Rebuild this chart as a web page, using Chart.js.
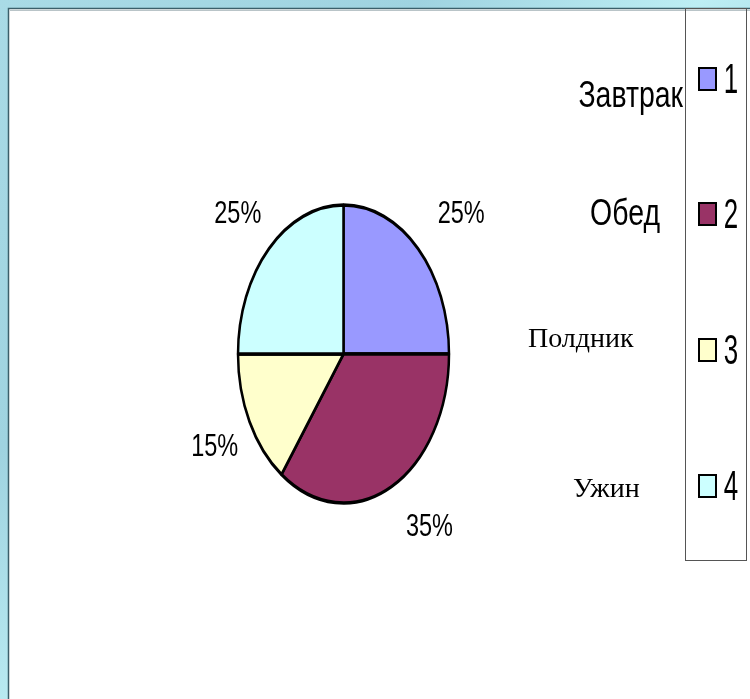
<!DOCTYPE html>
<html>
<head>
<meta charset="utf-8">
<script src="https://cdn.jsdelivr.net/npm/chart.js@4"></script>
<style>
  body { margin: 0; background: #fff; }
  canvas { display: block; }
</style>
</head>
<body>
<canvas id="mealChart" width="750" height="699"></canvas>
<script>
// Data for the chart
const meals = ['Завтрак', 'Обед', 'Полдник', 'Ужин'];
const legendNumbers = ['1', '2', '3', '4'];
const shares = [25, 35, 15, 25];
const sliceColors = ['#9999FF', '#993366', '#FFFFCC', '#CCFFFF'];

// pie is drawn as an ellipse: squeeze factor (height / width)
const stretchY = 149 / 105.5;

function drawText(ctx, text, x, y, font, sx, sy, align, baseline) {
    ctx.save();
    ctx.translate(x, y);
    ctx.scale(sx, sy);
    ctx.font = font;
    ctx.fillStyle = '#000';
    ctx.textAlign = align;
    ctx.textBaseline = baseline;
    ctx.fillText(text, 0, 0);
    ctx.restore();
}

// slide background: blue frame with white panel
const slideBackground = {
    id: 'slideBackground',
    beforeDraw(chart) {
        const ctx = chart.ctx;
        const w = chart.width, h = chart.height;
        const grad = ctx.createLinearGradient(0, 0, w, h);
        grad.addColorStop(0, '#a9dbe6');
        grad.addColorStop(0.3, '#9fd3e0');
        grad.addColorStop(0.5, '#bdeef4');
        grad.addColorStop(0.75, '#97ccdb');
        grad.addColorStop(1, '#b5e6ee');
        ctx.save();
        ctx.fillStyle = grad;
        ctx.fillRect(0, 0, w, h);
        ctx.fillStyle = '#ffffff';
        ctx.fillRect(9, 9, w - 9, h - 9);
        ctx.strokeStyle = '#3b5f6a';
        ctx.lineWidth = 1.5;
        ctx.beginPath();
        ctx.moveTo(8.5, h);
        ctx.lineTo(8.5, 8.5);
        ctx.lineTo(w, 8.5);
        ctx.stroke();
        ctx.strokeStyle = '#b9c4c8';
        ctx.lineWidth = 1;
        ctx.beginPath();
        ctx.moveTo(10, 10.5);
        ctx.lineTo(w, 10.5);
        ctx.stroke();
        ctx.restore();
    }
};

// stretch the round pie vertically into an ellipse
const ellipsePie = {
    id: 'ellipsePie',
    beforeDatasetsDraw(chart) {
        const arc = chart.getDatasetMeta(0).data[0];
        const ctx = chart.ctx;
        ctx.save();
        ctx.translate(arc.x, arc.y);
        ctx.scale(1, stretchY);
        ctx.translate(-arc.x, -arc.y);
    },
    afterDatasetsDraw(chart) {
        chart.ctx.restore();
        const ctx = chart.ctx;
        // gap from the rim, half text box, and a small right shift of the label box
        const gx = 20, gy = 33, hw = 23, hh = 11, shiftX = 6;
        chart.getDatasetMeta(0).data.forEach((arc, i) => {
            const mid = (arc.startAngle + arc.endAngle) / 2;
            const c = Math.cos(mid), s = Math.sin(mid);
            const px = arc.x + c * arc.outerRadius;
            const py = arc.y + s * arc.outerRadius * stretchY;
            const lx = px + Math.sign(c) * hw + c * gx + shiftX;
            const ly = py + Math.sign(s) * hh + s * gy;
            drawText(ctx, shares[i] + '%', lx, ly, '28px "Liberation Sans", Arial, sans-serif', 0.84, 1.12, 'center', 'middle');
        });
    }
};

// legend: names outside the box, numbered swatches inside it
const sideLegend = {
    id: 'sideLegend',
    afterDraw(chart) {
        const ctx = chart.ctx;
        ctx.save();
        ctx.strokeStyle = '#555';
        ctx.lineWidth = 1;
        ctx.strokeRect(685.5, 8.5, 61, 552);
        ctx.restore();

        const rows = [79, 214, 350, 486];
        const nameStyles = [
            { font: '36px "Liberation Sans", Arial, sans-serif', sx: 0.79, sy: 1.05, x: 683, align: 'right', dy: 28 },
            { font: '36px "Liberation Sans", Arial, sans-serif', sx: 0.79, sy: 1.05, x: 660, align: 'right', dy: 11 },
            { font: '28px "Liberation Serif", "Times New Roman", serif', sx: 1, sy: 1, x: 528, align: 'left', dy: -3 },
            { font: '28px "Liberation Serif", "Times New Roman", serif', sx: 1, sy: 1, x: 573, align: 'left', dy: 11 }
        ];
        meals.forEach((name, i) => {
            const y = rows[i];
            const st = nameStyles[i];
            drawText(ctx, name, st.x, y + st.dy, st.font, st.sx, st.sy, st.align, 'alphabetic');
            ctx.save();
            ctx.fillStyle = sliceColors[i];
            ctx.strokeStyle = '#000';
            ctx.lineWidth = 2;
            ctx.fillRect(699, y - 11, 17, 22);
            ctx.strokeRect(699, y - 11, 17, 22);
            ctx.restore();
            drawText(ctx, legendNumbers[i], 731, y + 14, '36px "Liberation Sans", Arial, sans-serif', 0.72, 1.2, 'center', 'alphabetic');
        });
    }
};

const ctx = document.getElementById('mealChart').getContext('2d');
const mealChart = new Chart(ctx, {
    type: 'pie',
    data: {
        labels: meals,
        datasets: [{
            data: shares,
            backgroundColor: sliceColors,
            borderColor: '#000',
            borderWidth: 2.5,
            hoverOffset: 0
        }]
    },
    options: {
        responsive: false,
        animation: false,
        events: [],
        radius: 105.5,
        layout: {
            padding: { left: 238, right: 301, top: 205, bottom: 196 }
        },
        plugins: {
            legend: { display: false },
            tooltip: { enabled: false }
        }
    },
    plugins: [slideBackground, ellipsePie, sideLegend]
});
</script>
</body>
</html>
